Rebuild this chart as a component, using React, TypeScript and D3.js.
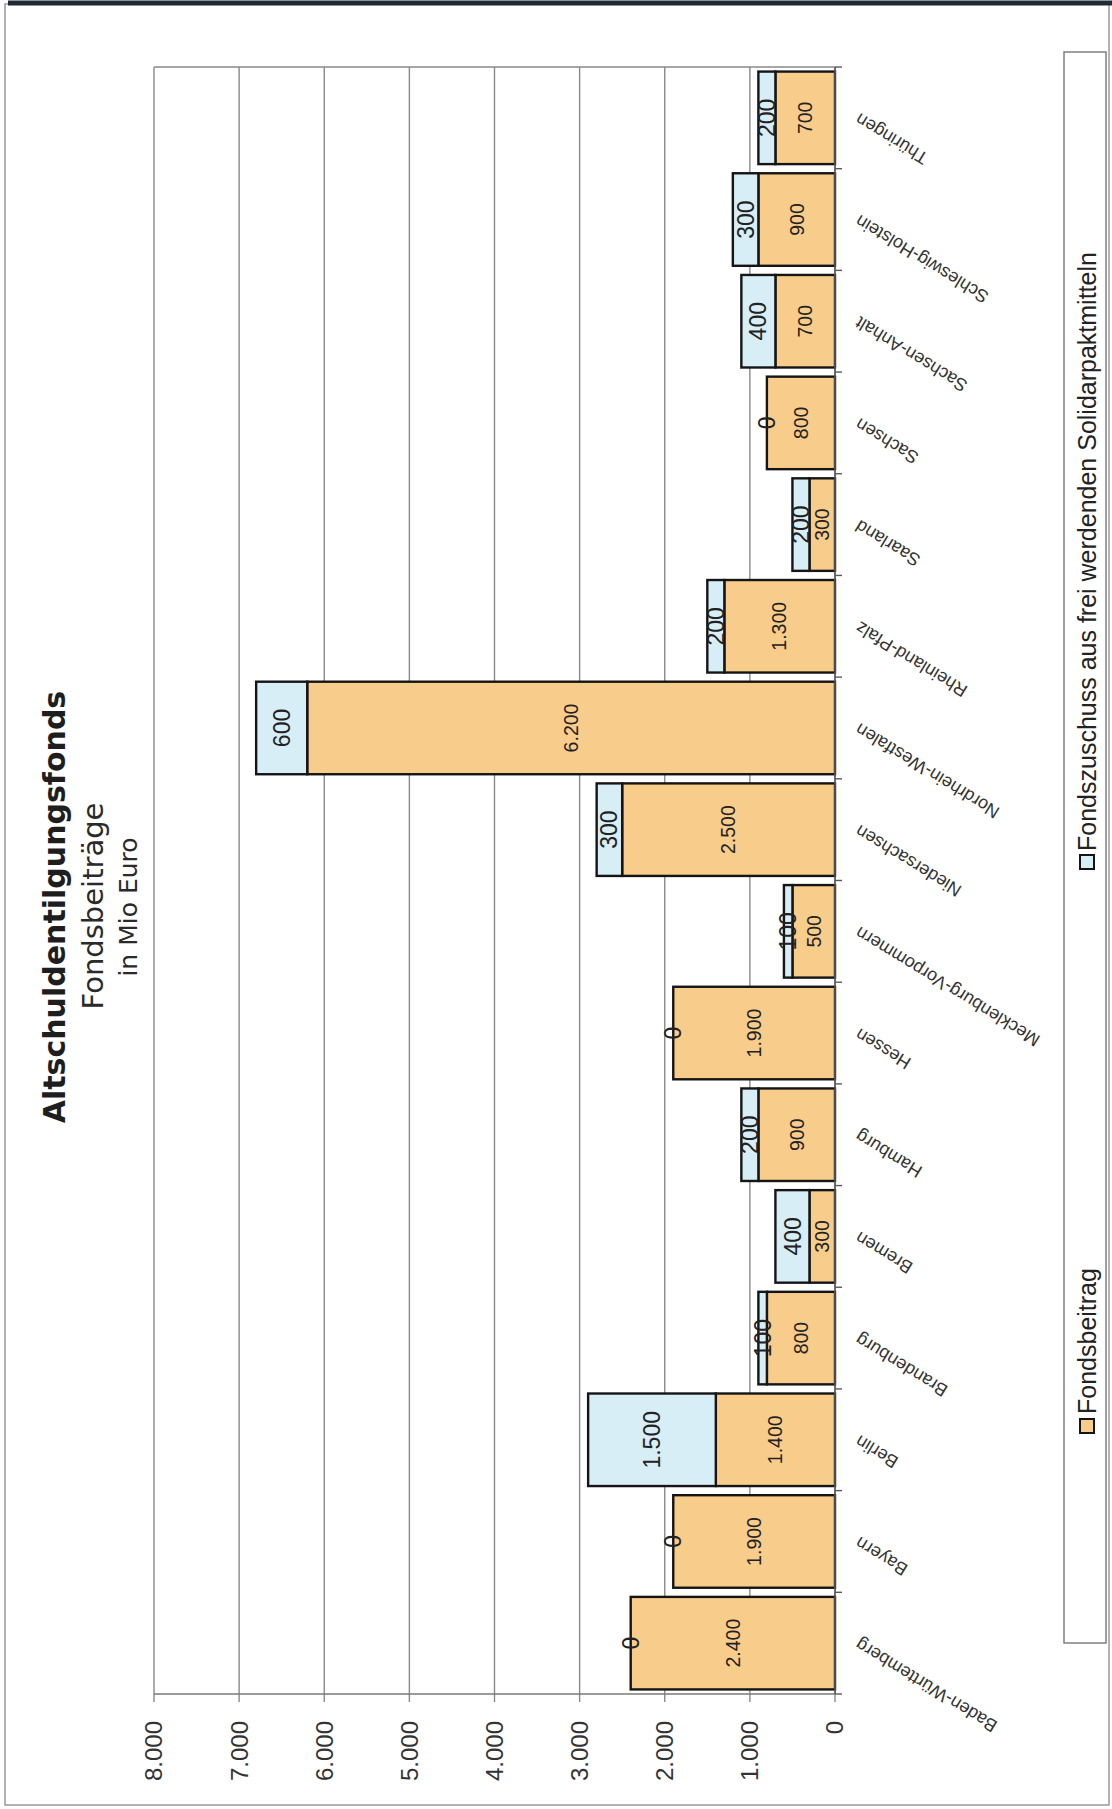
import React, { useEffect } from "react";
import * as d3 from "d3";

const categories = [
  "Baden-Württemberg",
  "Bayern",
  "Berlin",
  "Brandenburg",
  "Bremen",
  "Hamburg",
  "Hessen",
  "Mecklenburg-Vorpommern",
  "Niedersachsen",
  "Nordrhein-Westfalen",
  "Rheinland-Pfalz",
  "Saarland",
  "Sachsen",
  "Sachsen-Anhalt",
  "Schleswig-Holstein",
  "Thüringen",
];
const fondsbeitrag = [2400, 1900, 1400, 800, 300, 900, 1900, 500, 2500, 6200, 1300, 300, 800, 700, 900, 700];
const fondszuschuss = [0, 0, 1500, 100, 400, 200, 0, 100, 300, 600, 200, 200, 0, 400, 300, 200];
const valueTicks = [0, 1000, 2000, 3000, 4000, 5000, 6000, 7000, 8000];
const seriesNames = ["Fondsbeitrag", "Fondszuschuss aus frei werdenden Solidarpaktmitteln"];
const titleText = "Altschuldentilgungsfonds";
const subtitleText = "Fondsbeiträge";
const unitText = "in Mio Euro";

const W = 1112;
const H = 1809;
const PLOT_LEFT = 154;
const PLOT_RIGHT = 835;
const PLOT_TOP = 67;
const PLOT_BOTTOM = 1694;
const ORANGE = "#F8CC8A";
const BLUE = "#D7EEF6";
const STROKE = "#151515";
const SANS = "'Liberation Sans', Arial, sans-serif";
const DEJAVU = "'DejaVu Sans', Verdana, sans-serif";

const fmt = d3.formatLocale({ decimal: ",", thousands: ".", grouping: [3], currency: ["", "€"] }).format(",d");

export default function App() {
  useEffect(() => {
    document.body.style.margin = "0";
  }, []);

  const x = d3.scaleLinear().domain([0, 8000]).range([PLOT_RIGHT, PLOT_LEFT]);
  const y = d3
    .scaleBand<string>()
    .domain(categories)
    .range([PLOT_BOTTOM, PLOT_TOP])
    .paddingInner(0.09)
    .paddingOuter(0.045);
  const bw = y.bandwidth();

  const rows = categories.map((c, i) => ({
    c,
    f: fondsbeitrag[i],
    z: fondszuschuss[i],
    y0: y(c) as number,
  }));

  const boundaries = d3
    .range(categories.length + 1)
    .map((k) => PLOT_BOTTOM - k * ((PLOT_BOTTOM - PLOT_TOP) / categories.length));

  return (
    <svg width={W} height={H} style={{ display: "block", position: "absolute", left: 0, top: 0, background: "#fff" }}>
      {/* page frame */}
      <rect x={5} y={4} width={1104} height={1801} fill="#fff" stroke="#9a9a9a" strokeWidth={1.5} />
      <line x1={8} x2={W} y1={3} y2={3} stroke="#1f2b33" strokeWidth={5} />

      {/* title */}
      <text
        transform={`translate(65,907) rotate(-90)`}
        textAnchor="middle"
        fontFamily={DEJAVU}
        fontWeight="bold"
        fontSize={30}
        fill="#1e1e1e"
      >
        {titleText}
      </text>
      <text transform={`translate(103,906) rotate(-90)`} textAnchor="middle" fontFamily={DEJAVU} fontSize={29} fill="#2a2a2a">
        {subtitleText}
      </text>
      <text transform={`translate(137,907) rotate(-90)`} textAnchor="middle" fontFamily={DEJAVU} fontSize={25} fill="#2a2a2a">
        {unitText}
      </text>

      {/* plot border top & gridlines */}
      <line x1={PLOT_LEFT} x2={PLOT_RIGHT} y1={PLOT_TOP} y2={PLOT_TOP} stroke="#8a8a8a" strokeWidth={1.4} />
      {valueTicks.map((t) => (
        <line key={`g${t}`} x1={x(t)} x2={x(t)} y1={PLOT_TOP} y2={PLOT_BOTTOM + 8} stroke="#8a8a8a" strokeWidth={1.4} />
      ))}
      <line x1={PLOT_LEFT} x2={PLOT_RIGHT} y1={PLOT_BOTTOM} y2={PLOT_BOTTOM} stroke="#7a7a7a" strokeWidth={1.5} />

      {/* bars */}
      {rows.map((r) => (
        <g key={r.c}>
          <rect
            x={x(r.f)}
            y={r.y0}
            width={x(0) - x(r.f)}
            height={bw}
            fill={ORANGE}
            stroke={STROKE}
            strokeWidth={2.4}
          />
          {r.z > 0 && (
            <rect
              x={x(r.f + r.z)}
              y={r.y0}
              width={x(r.f) - x(r.f + r.z)}
              height={bw}
              fill={BLUE}
              stroke={STROKE}
              strokeWidth={2.4}
            />
          )}
        </g>
      ))}

      {/* category axis */}
      <line x1={PLOT_RIGHT} x2={PLOT_RIGHT} y1={PLOT_TOP} y2={PLOT_BOTTOM} stroke="#5a5a5a" strokeWidth={1.6} />
      {boundaries.map((b, k) => (
        <line key={`t${k}`} x1={PLOT_RIGHT} x2={PLOT_RIGHT + 7} y1={b} y2={b} stroke="#5a5a5a" strokeWidth={1.4} />
      ))}

      {/* bar labels */}
      {rows.map((r) => {
        const cy = r.y0 + bw / 2;
        const cxF = (x(0) + x(r.f)) / 2;
        const cxZ = (x(r.f) + x(r.f + r.z)) / 2;
        return (
          <g key={`l${r.c}`}>
            <text
              transform={`translate(${cxF},${cy}) rotate(-90)`}
              textAnchor="middle"
              dy="0.35em"
              fontFamily={SANS}
              fontSize={19.5}
              fill="#222"
            >
              {fmt(r.f)}
            </text>
            <text
              transform={`translate(${cxZ},${cy}) rotate(-90)`}
              textAnchor="middle"
              dy="0.35em"
              fontFamily={SANS}
              fontSize={23}
              fill="#222"
            >
              {fmt(r.z)}
            </text>
          </g>
        );
      })}

      {/* category labels */}
      {rows.map((r) => (
        <text
          key={`c${r.c}`}
          transform={`translate(${PLOT_RIGHT + 22},${r.y0 + bw / 2}) rotate(-148.5)`}
          textAnchor="end"
          dy="0.35em"
          fontFamily={SANS}
          fontSize={18}
          fill="#333"
        >
          {r.c}
        </text>
      ))}

      {/* value axis labels */}
      {valueTicks.map((t) => (
        <text
          key={`v${t}`}
          transform={`translate(${x(t)},1721) rotate(-90)`}
          textAnchor="end"
          dy="0.35em"
          fontFamily={SANS}
          fontSize={24}
          fill="#333"
        >
          {fmt(t)}
        </text>
      ))}

      {/* legend */}
      <rect x={1064} y={52} width={42} height={1591} fill="#fff" stroke="#777" strokeWidth={1.4} />
      <rect x={1080} y={1419} width={14} height={14} fill={ORANGE} stroke={STROKE} strokeWidth={2} />
      <text transform={`translate(1096,1414) rotate(-90)`} fontFamily={SANS} fontSize={25} fill="#222">
        {seriesNames[0]}
      </text>
      <rect x={1080} y={855} width={14} height={14} fill={BLUE} stroke={STROKE} strokeWidth={2} />
      <text transform={`translate(1096,851) rotate(-90)`} fontFamily={SANS} fontSize={25} fill="#222">
        {seriesNames[1]}
      </text>
    </svg>
  );
}
